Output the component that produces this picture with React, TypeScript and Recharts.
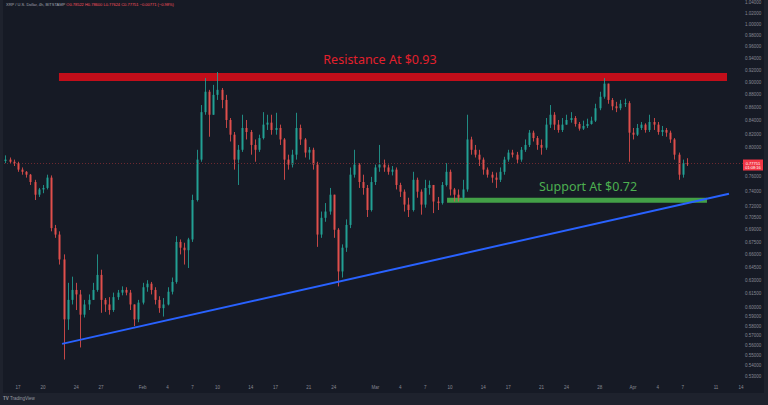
import React from "react";
import {
  ComposedChart,
  Bar,
  XAxis,
  YAxis,
  ReferenceLine,
  ReferenceArea,
} from "recharts";

// XRP / USD, 12h candles. Days counted from Jan 1 2022 (= 0).
const startDay = 14.5;
const candleStep = 0.5;
const firstOpen = 0.781;

const closes = [
  0.783, 0.78, 0.778, 0.769, 0.766, 0.762, 0.752, 0.735, 0.742, 0.744,
  0.758, 0.692, 0.684, 0.654, 0.587, 0.608, 0.619, 0.614, 0.592, 0.603,
  0.608, 0.619, 0.636, 0.608, 0.603, 0.597, 0.611, 0.616, 0.619, 0.616,
  0.603, 0.587, 0.605, 0.622, 0.626, 0.619, 0.608, 0.599, 0.603, 0.617,
  0.628, 0.675, 0.668, 0.665, 0.678, 0.728, 0.783, 0.853, 0.885, 0.849,
  0.88, 0.888, 0.872, 0.841, 0.819, 0.783, 0.797, 0.829, 0.823, 0.804,
  0.797, 0.814, 0.834, 0.837, 0.826, 0.829, 0.812, 0.783, 0.776, 0.79,
  0.829, 0.812, 0.793, 0.797, 0.776, 0.684, 0.705, 0.713, 0.735, 0.69,
  0.64, 0.668, 0.696, 0.762, 0.776, 0.752, 0.744, 0.715, 0.752, 0.772,
  0.776, 0.772, 0.766, 0.769, 0.748, 0.739, 0.722, 0.715, 0.755, 0.739,
  0.722, 0.744, 0.748, 0.726, 0.724, 0.748, 0.766, 0.742, 0.735, 0.731,
  0.742, 0.812, 0.797, 0.79, 0.783, 0.769, 0.762, 0.758, 0.755, 0.766,
  0.783, 0.793, 0.79, 0.783, 0.797, 0.804, 0.822, 0.814, 0.804, 0.8,
  0.834, 0.849, 0.834, 0.826, 0.834, 0.841, 0.844, 0.835, 0.828, 0.832,
  0.835, 0.84, 0.859, 0.877, 0.898, 0.872, 0.862, 0.859, 0.866, 0.867,
  0.822, 0.819, 0.829, 0.834, 0.826, 0.838, 0.834, 0.823, 0.826, 0.822,
  0.812, 0.79, 0.762, 0.778, 0.77751,
];

const highs = [
  0.789, 0.786, 0.783, 0.78, 0.772, 0.767, 0.763, 0.755, 0.744, 0.748,
  0.762, 0.761, 0.696, 0.688, 0.66, 0.627, 0.634, 0.627, 0.619, 0.608,
  0.614, 0.627, 0.66, 0.642, 0.61, 0.611, 0.616, 0.619, 0.623, 0.622,
  0.619, 0.603, 0.608, 0.627, 0.63, 0.628, 0.622, 0.612, 0.61, 0.622,
  0.633, 0.682, 0.678, 0.674, 0.68, 0.735, 0.797, 0.864, 0.907, 0.888,
  0.896, 0.917, 0.891, 0.88, 0.844, 0.823, 0.804, 0.849, 0.841, 0.826,
  0.812, 0.819, 0.853, 0.849, 0.849, 0.852, 0.834, 0.814, 0.79, 0.797,
  0.852, 0.834, 0.814, 0.801, 0.8, 0.78, 0.713, 0.724, 0.744, 0.735,
  0.692, 0.672, 0.703, 0.772, 0.797, 0.778, 0.762, 0.748, 0.759, 0.776,
  0.804, 0.783, 0.776, 0.774, 0.772, 0.751, 0.742, 0.731, 0.766, 0.758,
  0.742, 0.755, 0.754, 0.748, 0.732, 0.752, 0.778, 0.769, 0.744, 0.742,
  0.755, 0.849, 0.816, 0.804, 0.797, 0.786, 0.772, 0.766, 0.765, 0.772,
  0.787, 0.797, 0.797, 0.794, 0.801, 0.812, 0.826, 0.825, 0.817, 0.812,
  0.844, 0.864, 0.853, 0.841, 0.844, 0.849, 0.853, 0.847, 0.838, 0.84,
  0.843, 0.846, 0.866, 0.885, 0.907, 0.894, 0.875, 0.869, 0.872, 0.874,
  0.87, 0.829, 0.835, 0.838, 0.836, 0.849, 0.844, 0.838, 0.832, 0.829,
  0.825, 0.814, 0.793, 0.783, 0.785,
];

const lows = [
  0.778, 0.777, 0.774, 0.766, 0.762, 0.758, 0.748, 0.728, 0.732, 0.737,
  0.742, 0.688, 0.68, 0.648, 0.546, 0.576, 0.603, 0.597, 0.558, 0.589,
  0.597, 0.608, 0.617, 0.594, 0.595, 0.592, 0.595, 0.608, 0.613, 0.613,
  0.597, 0.58, 0.584, 0.603, 0.617, 0.614, 0.603, 0.594, 0.59, 0.602,
  0.614, 0.626, 0.66, 0.648, 0.644, 0.675, 0.726, 0.78, 0.849, 0.816,
  0.849, 0.872, 0.859, 0.829, 0.809, 0.769, 0.748, 0.794, 0.812, 0.79,
  0.78, 0.794, 0.812, 0.826, 0.819, 0.819, 0.804, 0.755, 0.769, 0.772,
  0.783, 0.804, 0.786, 0.783, 0.769, 0.669, 0.68, 0.7, 0.709, 0.68,
  0.623, 0.633, 0.663, 0.692, 0.758, 0.744, 0.735, 0.706, 0.713, 0.748,
  0.766, 0.766, 0.762, 0.761, 0.742, 0.732, 0.713, 0.706, 0.713, 0.731,
  0.709, 0.718, 0.735, 0.711, 0.715, 0.722, 0.746, 0.734, 0.726, 0.726,
  0.728, 0.739, 0.79, 0.786, 0.774, 0.762, 0.758, 0.751, 0.744, 0.752,
  0.762, 0.78, 0.786, 0.778, 0.78, 0.794, 0.801, 0.809, 0.797, 0.79,
  0.797, 0.829, 0.826, 0.822, 0.823, 0.834, 0.837, 0.831, 0.825, 0.826,
  0.829, 0.834, 0.838, 0.856, 0.874, 0.866, 0.856, 0.853, 0.856, 0.861,
  0.78, 0.812, 0.817, 0.826, 0.822, 0.823, 0.826, 0.819, 0.817, 0.816,
  0.807, 0.783, 0.755, 0.758, 0.774,
];

const tickDays = [16, 19, 23, 26, 31, 34, 37, 40, 44, 47, 51, 54, 59, 62, 65, 68, 72, 75, 79, 82, 86, 90, 93, 96, 100, 103];
const tickLabels = ["17", "20", "24", "27", "Feb", "4", "7", "10", "14", "17", "21", "24", "Mar", "4", "7", "10", "14", "17", "21", "24", "28", "Apr", "4", "7", "11", "14"];

const priceTicks = [
  1.04, 1.02, 1.0, 0.98, 0.96, 0.94, 0.92, 0.9, 0.88, 0.86, 0.84, 0.82, 0.8,
  0.76, 0.74, 0.72, 0.705, 0.69, 0.675, 0.66, 0.645, 0.63, 0.615, 0.6, 0.59,
  0.58, 0.57, 0.56, 0.55, 0.54, 0.53,
];

const lastPrice = 0.77751;

// drawings (in day / price units)
const resistanceZone = { from: 20.93, to: 101.32, low: 0.9024, high: 0.9155 };
const supportZone = { from: 67.63, to: 98.91, low: 0.7244, high: 0.7309 };
const trendStart = { day: 21.3, price: 0.5616 };
const trendEnd = { day: 101.56, price: 0.7362 };

const UP = "#22a094";
const DOWN = "#e04f4c";
const BG = "#161a25";
const FRAME = "#1e222d";
const AXIS_TEXT = "#868993";

const candles = closes.map((close, i) => {
  const open = i === 0 ? firstOpen : closes[i - 1];
  const high = Math.max(highs[i], open, close);
  const low = Math.min(lows[i], open, close);
  return { t: startDay + i * candleStep, open, close, high, low, range: [low, high] };
});

function Candle(props: any) {
  const { x, y, width, height, payload } = props;
  if (!payload) return null;
  const { open, close, high, low } = payload;
  const yTop = Math.min(y, y + height);
  const h = Math.abs(height);
  const span = Math.log(high) - Math.log(low);
  const toY = (p: number) =>
    span > 0 ? yTop + (h * (Math.log(high) - Math.log(p))) / span : yTop;
  const yo = toY(open);
  const yc = toY(close);
  const color = close >= open ? UP : DOWN;
  const cx = Math.round(x + width / 2) + 0.5;
  return (
    <g>
      <line x1={cx} x2={cx} y1={yTop} y2={yTop + h} stroke={color} strokeWidth={1} strokeOpacity={0.85} />
      <rect
        x={cx - width / 2}
        y={Math.min(yo, yc)}
        width={width}
        height={Math.max(1, Math.abs(yo - yc))}
        fill={color}
      />
    </g>
  );
}

function PriceTag(props: any) {
  const vb = props.viewBox;
  if (!vb) return null;
  const x = vb.x + vb.width;
  const y = vb.y;
  return (
    <g>
      <rect x={x} y={y - 4} width={20} height={11} fill="#f23645" />
      <text x={x + 10} y={y + 1} textAnchor="middle" fontSize={4} fill="#fff" fontFamily="Liberation Sans">
        {lastPrice.toFixed(5)}
      </text>
      <text x={x + 10} y={y + 5.5} textAnchor="middle" fontSize={4} fill="#fff" fontFamily="Liberation Sans">
        01:08:16
      </text>
    </g>
  );
}

function ZoneLabel(props: any) {
  const vb = props.viewBox;
  if (!vb) return null;
  return (
    <text
      x={vb.x + vb.width / 2 + props.dx}
      y={vb.y - props.gap}
      textAnchor="middle"
      fontSize={12.5}
      fontFamily="Noto Sans"
      fill={props.color}
    >
      {props.text}
    </text>
  );
}

export default function App() {
  return (
    <div style={{ position: "fixed", left: 0, top: 0, width: 768, height: 405, background: FRAME, overflow: "hidden" }}>
      <div style={{ position: "absolute", left: 3, top: 0, width: 761, height: 393, background: BG }} />
      <div style={{ position: "absolute", left: 0, top: 0 }}>
        <ComposedChart
          width={768}
          height={393}
          data={candles}
          margin={{ top: 0, right: 4, bottom: 0, left: 3 }}
        >
          <XAxis
            dataKey="t"
            type="number"
            domain={[14.195, 103.245]}
            allowDataOverflow
            ticks={tickDays}
            interval={0}
            tickFormatter={(v: number) => tickLabels[tickDays.indexOf(v)] ?? ""}
            axisLine={false}
            tickLine={false}
            tickSize={0}
            height={13}
            tickMargin={6}
            tick={{ fontSize: 4.5, fill: AXIS_TEXT, fontFamily: "Liberation Sans" }}
          />
          <YAxis
            orientation="right"
            scale="log"
            type="number"
            domain={[0.5262, 1.0442]}
            allowDataOverflow
            ticks={priceTicks}
            interval={0}
            tickFormatter={(v: number) => v.toFixed(5)}
            axisLine={false}
            tickLine={false}
            tickSize={0}
            width={21}
            tickMargin={2}
            tick={{ fontSize: 4.5, fill: AXIS_TEXT, fontFamily: "Liberation Sans" }}
          />
          <ReferenceLine
            y={lastPrice}
            stroke="#6e2a31"
            strokeDasharray="1 2"
            label={<PriceTag />}
          />
          <Bar
            dataKey="range"
            barSize={2}
            shape={<Candle />}
            isAnimationActive={false}
          />
          <ReferenceArea
            x1={resistanceZone.from}
            x2={resistanceZone.to}
            y1={resistanceZone.low}
            y2={resistanceZone.high}
            fill="#c20e1a"
            fillOpacity={1}
            stroke="none"
            label={<ZoneLabel text="Resistance At $0.93" color="#e3202c" dx={-13} gap={9} />}
          />
          <ReferenceArea
            x1={supportZone.from}
            x2={supportZone.to}
            y1={supportZone.low}
            y2={supportZone.high}
            fill="#43a047"
            fillOpacity={1}
            stroke="none"
            label={<ZoneLabel text="Support At $0.72" color="#4caf50" dx={11} gap={7} />}
          />
          <ReferenceLine
            segment={[
              { x: trendStart.day, y: trendStart.price },
              { x: trendEnd.day, y: trendEnd.price },
            ]}
            stroke="#2962ff"
            strokeWidth={2}
          />
        </ComposedChart>
      </div>
      <div
        style={{
          position: "absolute",
          left: 6,
          top: 2,
          fontSize: 4,
          fontFamily: "Liberation Sans",
          color: "#a3a6af",
          whiteSpace: "nowrap",
          lineHeight: "5px",
        }}
      >
        XRP / U.S. Dollar, 4h, BITSTAMP{" "}
        <span style={{ color: "#f7525f" }}>
          O0.78522 H0.78600 L0.77624 C0.77751 −0.00771 (−0.98%)
        </span>
      </div>
      <div
        style={{
          position: "absolute",
          left: 3,
          top: 396,
          fontSize: 4.5,
          fontFamily: "Liberation Sans",
          color: "#9598a1",
          whiteSpace: "nowrap",
          lineHeight: "6px",
        }}
      >
        <b>TV</b> TradingView
      </div>
    </div>
  );
}
